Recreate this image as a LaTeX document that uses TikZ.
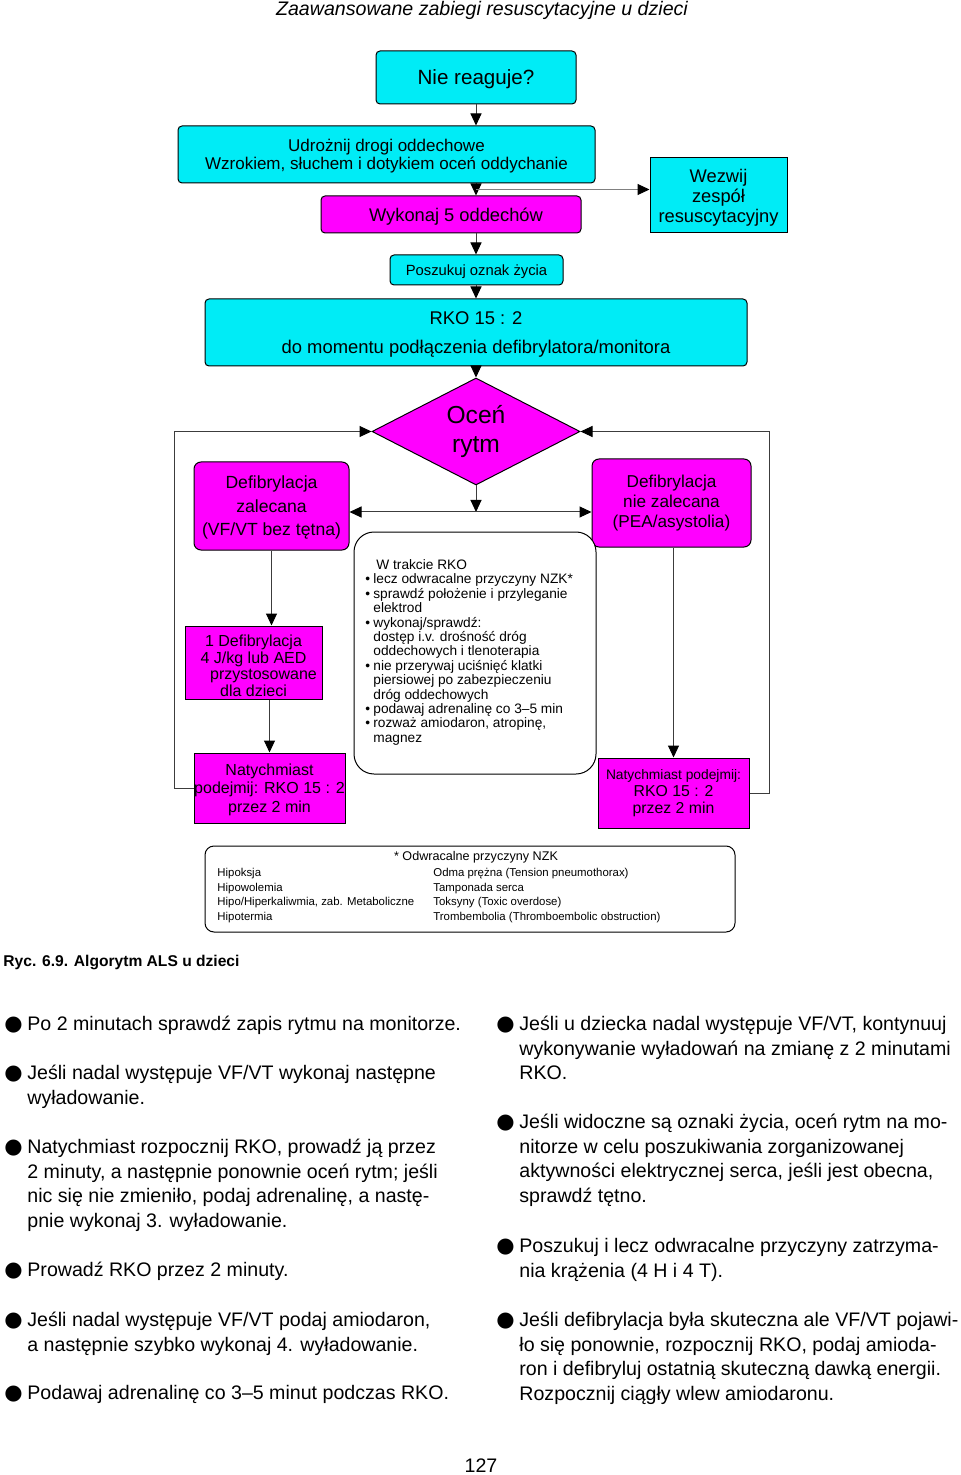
\documentclass[tikz,border=0pt]{standalone}
\usepackage{fontspec}
\setmainfont{Liberation Sans}
\newfontfamily\symfont{DejaVu Sans}
\usetikzlibrary{calc,positioning,arrows.meta,shapes.geometric}
\definecolor{boxcyan}{RGB}{0,236,246}
\definecolor{boxmag}{RGB}{255,0,255}
\definecolor{linegray}{RGB}{60,60,60}
\newcommand{\fs}[2]{\fontsize{#1pt}{#2pt}\selectfont}
\newcommand{\topln}[1]{\rule{0pt}{#1pt}}
\newcommand{\blt}{\makebox[11.5pt][l]{\symfont\fontsize{10.5}{12}\selectfont ●}}
\newcommand{\hang}{\hspace*{11.5pt}}
\newcommand{\sbl}{\makebox[4pt][l]{\textbullet}}
\newcommand{\sind}{\hspace*{4pt}}
\tikzset{
  cyanbox/.style={draw=black, line width=0.5pt, fill=boxcyan, rounded corners=2pt, inner sep=0pt, align=center, text depth=0pt},
  magbox/.style={draw=black, line width=0.5pt, fill=boxmag, rounded corners=2pt, inner sep=0pt, align=center, text depth=0pt},
  link/.style={draw=linegray, line width=0.5pt},
  arr/.style={link, ->},
  para/.style={anchor=north west, inner sep=0pt, align=left, font=\fs{9.8}{12.3}}
}

\begin{document}
\begin{tikzpicture}[x=0.5pt,y=-0.5pt,>={Triangle[length=6pt,width=5.5pt,color=black]}]

  \fill[white] (0,0) rectangle (960,1475);
  \useasboundingbox (0,0) rectangle (960,1475);

  \node (head) [font=\fs{9.8}{12}\itshape] at (482,10) {Zaawansowane zabiegi resuscytacyjne u dzieci};

  % flowchart
  \node (nie) [cyanbox, minimum width=100pt, minimum height=26.5pt, font=\fs{10.3}{12}] at (476,77.5) {Nie reaguje?};
  \node (udroz) [cyanbox, minimum width=208.5pt, minimum height=28.5pt, font=\fs{8.5}{9}] at (386.5,154.5) {Udrożnij drogi oddechowe\\Wzrokiem, słuchem i dotykiem oceń oddychanie};
  \node (wykonaj) [magbox, minimum width=130pt, minimum height=18.5pt, font=\fs{9.15}{11}] at (451,214.5) {\hspace*{5pt}Wykonaj 5 oddechów};
  \node (wezwij) [cyanbox, sharp corners, minimum width=68.5pt, minimum height=37.5pt, font=\fs{9.15}{10}] at (718.5,195.5) {Wezwij\\zespół\\resuscytacyjny};
  \node (poszukuj) [cyanbox, minimum width=86.5pt, minimum height=15pt, font=\fs{7.4}{9}] at (476.5,270) {Poszukuj oznak życia};
  \node (rko) [cyanbox, minimum width=271pt, minimum height=33.5pt, font=\fs{9.2}{14.5}] at (476,332.5) {RKO 15 : 2\\do momentu podłączenia defibrylatora/monitora};
  \node (ocen) [magbox, diamond, sharp corners, shape aspect=2, text depth=2.6pt, minimum width=104pt, minimum height=53.5pt, font=\fs{12.3}{14.5}] at (476,431.5) {Oceń\\rytm};

  \node (defl) [magbox, rounded corners=3.5pt, minimum width=77.5pt, minimum height=44pt, font=\fs{8.8}{11.75}] at (271.5,506) {Defibrylacja\\zalecana\\(VF/VT bez tętna)};
  \node (defr) [magbox, rounded corners=3.5pt, text depth=2pt, minimum width=79.5pt, minimum height=44pt, font=\fs{8.6}{10}] at (671.5,503) {Defibrylacja\\nie zalecana\\(PEA/asystolia)};
  \node (def1) [magbox, sharp corners, minimum width=68.5pt, minimum height=36.5pt, font=\fs{8}{8.35}] at (253.5,662.5) {\topln{8.9}1 Defibrylacja\\4 J/kg lub AED\\\hspace*{10pt}przystosowane\\dla dzieci};
  \node (natl) [magbox, sharp corners, minimum width=75.5pt, minimum height=35pt, font=\fs{8}{9.25}] at (269.5,788) {Natychmiast\\podejmij: RKO 15 : 2\\przez 2 min};
  \node (natr) [magbox, sharp corners, text depth=1.9pt, minimum width=75.5pt, minimum height=35pt, font=\fs{7.9}{8.5}] at (673.5,793) {{\fs{6.9}{8.5}Natychmiast podejmij:}\\RKO 15 : 2\\przez 2 min};

  \node (trakcie) [draw=black, line width=0.5pt, fill=white, rounded corners=10pt, minimum width=121pt, minimum height=121pt] at (475,653) {};
  \node (trakcietxt) [anchor=north west, inner sep=0pt, align=left, font=\fs{6.85}{7.2}] at (365,557) {\topln{6}\hspace*{5.5pt}W trakcie RKO\\
    \sbl lecz odwracalne przyczyny NZK*\\
    \sbl sprawdź położenie i przyleganie\\
    \sind elektrod\\
    \sbl wykonaj/sprawdź:\\
    \sind dostęp i.v. drośność dróg\\
    \sind oddechowych i tlenoterapia\\
    \sbl nie przerywaj uciśnięć klatki\\
    \sind piersiowej po zabezpieczeniu\\
    \sind dróg oddechowych\\
    \sbl podawaj adrenalinę co 3–5 min\\
    \sbl rozważ amiodaron, atropinę,\\
    \sind magnez};

  % connectors
  \foreach \a/\b in {nie/udroz,udroz/wykonaj,wykonaj/poszukuj,poszukuj/rko,rko/ocen}
    \draw[arr] (\a.south -| nie) -- (\b.north -| nie);
  \coordinate (split) at ($(udroz.south -| nie)!0.5!(wykonaj.north -| nie)$);
  \draw[arr, draw=black!50] (split) -- (split -| wezwij.west);
  \coordinate (mid) at (476,512);
  \draw[arr] (ocen.south) -- (mid);
  \draw[link, <->] (defl.east |- mid) -- (defr.west |- mid);
  \draw[arr] (defl.south) -- (defl.south |- def1.north);
  \draw[arr] (natl.north |- def1.south) -- (natl.north);
  \draw[arr] (natr.north |- defr.south) -- (natr.north);
  \draw[arr] (natl.west) -- ++(-19,0) |- (ocen.west);
  \draw[arr] (natr.east) -- ++(20,0) |- (ocen.east);

  % reversible causes
  \node (nzk) [draw=black, line width=0.5pt, rounded corners=4.5pt, minimum width=265pt, minimum height=43pt] at (470,889) {};
  \node (nzktitle) [inner sep=0pt, font=\fs{6.3}{7}] at (476,857) {* Odwracalne przyczyny NZK};
  \node (nzkleft) [anchor=north west, inner sep=0pt, align=left, font=\fs{5.7}{7.3}] at (217,866) {\topln{5}Hipoksja\\Hipowolemia\\Hipo/Hiperkaliwmia, zab. Metaboliczne\\Hipotermia};
  \node (nzkright) [anchor=north west, inner sep=0pt, align=left, font=\fs{5.7}{7.3}] at (433,866) {\topln{5}Odma prężna (Tension pneumothorax)\\Tamponada serca\\Toksyny (Toxic overdose)\\Trombembolia (Thromboembolic obstruction)};

  \node (caption) [anchor=west, inner sep=0pt, font=\fs{7.8}{9}\bfseries] at (3,962) {Ryc. 6.9. Algorytm ALS u dzieci};

  % text columns
  \node (p1) [para] at (4,1014) {\topln{8}\blt Po 2 minutach sprawdź zapis rytmu na monitorze.};
  \node (p2) [para] at (4,1063) {\topln{8}\blt Jeśli nadal występuje VF/VT wykonaj następne\\\hang wyładowanie.};
  \node (p3) [para] at (4,1137) {\topln{8}\blt Natychmiast rozpocznij RKO, prowadź ją przez\\\hang 2 minuty, a następnie ponownie oceń rytm; jeśli\\\hang nic się nie zmieniło, podaj adrenalinę, a nastę-\\\hang pnie wykonaj 3. wyładowanie.};
  \node (p4) [para] at (4,1260) {\topln{8}\blt Prowadź RKO przez 2 minuty.};
  \node (p5) [para] at (4,1310) {\topln{8}\blt Jeśli nadal występuje VF/VT podaj amiodaron,\\\hang a następnie szybko wykonaj 4. wyładowanie.};
  \node (p6) [para] at (4,1383) {\topln{8}\blt Podawaj adrenalinę co 3–5 minut podczas RKO.};

  \node (q1) [para] at (496,1014) {\topln{8}\blt Jeśli u dziecka nadal występuje VF/VT, kontynuuj\\\hang wykonywanie wyładowań na zmianę z 2 minutami\\\hang RKO.};
  \node (q2) [para] at (496,1112) {\topln{8}\blt Jeśli widoczne są oznaki życia, oceń rytm na mo-\\\hang nitorze w celu poszukiwania zorganizowanej\\\hang aktywności elektrycznej serca, jeśli jest obecna,\\\hang sprawdź tętno.};
  \node (q3) [para] at (496,1236) {\topln{8}\blt Poszukuj i lecz odwracalne przyczyny zatrzyma-\\\hang nia krążenia (4 H i 4 T).};
  \node (q4) [para] at (496,1310) {\topln{8}\blt Jeśli defibrylacja była skuteczna ale VF/VT pojawi-\\\hang ło się ponownie, rozpocznij RKO, podaj amioda-\\\hang ron i defibryluj ostatnią skuteczną dawką energii.\\\hang Rozpocznij ciągły wlew amiodaronu.};

  \node (pagenum) [font=\fs{9.8}{12}] at (481,1466) {127};

\end{tikzpicture}
\end{document}
